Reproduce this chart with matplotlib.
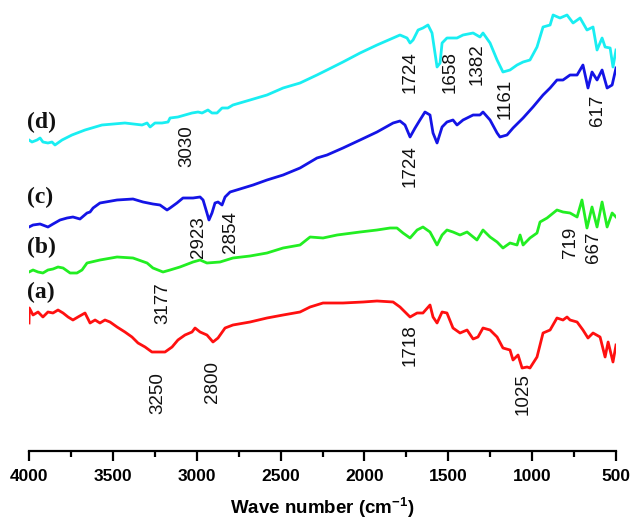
import matplotlib
matplotlib.use("Agg")
import matplotlib.pyplot as plt
from matplotlib.ticker import MultipleLocator

plt.rcParams['font.family'] = ['Liberation Sans', 'DejaVu Sans']
plt.rcParams['mathtext.fontset'] = 'custom'
plt.rcParams['mathtext.rm'] = 'Liberation Sans'
plt.rcParams['mathtext.bf'] = 'Liberation Sans:bold'

# ---- data (wavenumber in cm-1, transmittance in arbitrary offset units) ----
d_wn = [4000, 3982, 3952, 3934, 3917, 3887, 3863, 3845, 3803, 3744,
        3666, 3565, 3428, 3326, 3296, 3278, 3249, 3207, 3171, 3159,
        3112, 3070, 3028, 2992, 2968, 2933, 2909, 2879, 2849, 2814,
        2784, 2682, 2581, 2485, 2384, 2283, 2223, 2128, 2026, 1925, 1829,
        1788, 1746, 1728, 1710, 1680, 1651, 1621, 1597, 1567, 1549,
        1537, 1508, 1448, 1412, 1352, 1311, 1293, 1251, 1209, 1174,
        1132, 1090, 1054, 1013, 971, 935, 893, 875, 834, 792,
        756, 714, 673, 637, 613, 583, 565, 535, 518, 500]
d_t = [311, 309, 311, 313, 309, 308, 309, 306, 311, 316,
       321, 326, 328, 326, 328, 324, 328, 328, 329, 333,
       334, 336, 338, 339, 338, 341, 338, 338, 343, 343,
       346, 351, 356, 363, 368, 376, 381, 389, 398, 406, 413,
       416, 413, 408, 411, 421, 423, 426, 418, 384, 388,
       408, 413, 413, 416, 418, 414, 418, 408, 391, 379,
       381, 386, 389, 391, 404, 424, 426, 436, 433, 436,
       428, 433, 421, 424, 401, 413, 404, 403, 384, 401]

c_wn = [4000, 3976, 3934, 3887, 3857, 3815, 3773, 3738, 3696, 3654,
        3636, 3618, 3577, 3475, 3380, 3320, 3261, 3219, 3177, 3159,
        3118, 3082, 3022, 2980, 2962, 2939, 2927, 2909, 2891, 2873,
        2849, 2831, 2801, 2742, 2664, 2581, 2485, 2384, 2283, 2223,
        2128, 2026, 1925, 1829, 1788, 1758, 1728, 1698, 1669, 1639,
        1609, 1591, 1567, 1537, 1508, 1472, 1448, 1412, 1352, 1311,
        1293, 1251, 1209, 1192, 1150, 1114, 1054, 995, 935, 893,
        852, 816, 774, 732, 697, 667, 643, 613, 583, 553,
        523, 500]
c_t = [224, 226, 227, 224, 227, 231, 233, 234, 232, 238,
       239, 243, 248, 251, 252, 249, 247, 246, 241, 243,
       248, 253, 253, 254, 251, 238, 231, 238, 248, 249,
       246, 254, 259, 262, 266, 271, 276, 283, 293, 296,
       303, 311, 319, 328, 330, 326, 314, 323, 331, 339,
       336, 318, 308, 324, 329, 331, 326, 331, 336, 336,
       339, 331, 318, 314, 316, 323, 333, 344, 356, 363,
       371, 371, 376, 376, 386, 363, 379, 371, 381, 363,
       366, 383]

b_wn = [4000, 3976, 3946, 3917, 3887, 3857, 3827, 3797, 3755, 3714,
        3684, 3654, 3577, 3475, 3380, 3296, 3261, 3201, 3159, 3100,
        3022, 2980, 2939, 2861, 2784, 2682, 2581, 2485, 2384, 2324,
        2247, 2163, 2026, 1925, 1847, 1806, 1770, 1728, 1686, 1651,
        1609, 1567, 1537, 1508, 1472, 1430, 1388, 1329, 1293, 1251,
        1209, 1174, 1132, 1090, 1072, 1054, 1013, 971, 953, 911,
        852, 816, 774, 732, 703, 673, 643, 613, 583, 553,
        523, 500]
b_t = [179, 181, 179, 178, 181, 182, 184, 183, 178, 178,
       181, 188, 191, 194, 193, 188, 183, 179, 181, 184,
       189, 191, 188, 189, 193, 195, 198, 203, 206, 214,
       213, 216, 219, 221, 223, 223, 218, 213, 221, 224,
       219, 206, 216, 221, 219, 216, 219, 211, 221, 214,
       209, 203, 208, 206, 216, 206, 213, 218, 229, 233,
       241, 239, 238, 234, 251, 223, 244, 224, 249, 224,
       238, 234]

a_wn = [4000, 3998, 3976, 3946, 3917, 3887, 3857, 3827, 3797, 3767,
        3738, 3708, 3666, 3636, 3606, 3577, 3547, 3517, 3475, 3428,
        3386, 3350, 3308, 3267, 3231, 3189, 3147, 3112, 3070, 3028,
        3010, 2980, 2939, 2903, 2873, 2831,
        2784, 2682, 2581, 2485, 2384, 2324, 2247, 2128, 2008, 1925,
        1829, 1788, 1728, 1686, 1651, 1609, 1591, 1567, 1537, 1508,
        1472, 1430, 1388, 1352, 1323, 1293, 1251, 1209, 1174, 1132,
        1114, 1084, 1060, 1030, 1013, 971, 935, 893, 852, 816,
        792, 774, 732, 697, 667, 637, 595, 565, 547, 518,
        500]
a_t = [128, 143, 136, 139, 134, 139, 138, 141, 138, 134,
       131, 134, 138, 128, 131, 128, 131, 129, 124, 119,
       114, 108, 104, 99, 99, 99, 104, 111, 116, 119,
       123, 119, 116, 109, 113, 123,
       126, 129, 133, 136, 139, 144, 148, 148, 149, 150,
       149, 144, 134, 138, 138, 146, 134, 128, 139, 138,
       123, 118, 121, 112, 114, 123, 121, 114, 103, 101,
       91, 96, 83, 84, 83, 94, 118, 121, 133, 131,
       134, 131, 129, 121, 113, 118, 114, 94, 109, 89,
       106]

series_names = ['(d)', '(c)', '(b)', '(a)']
series_colors = ['#19EEF2', '#1414E6', '#22EE22', '#FF1010']

peak_labels = ['3030', '1724', '1658', '1382', '1161', '617',
               '2923', '2854', '1724', '719', '667',
               '3177', '3250', '2800', '1718', '1025']
peak_pos = [(3058, 305), (1728, 379), (1490, 379), (1329, 387), (1162, 352), (613, 341),
            (2992, 214), (2801, 219), (1728, 285), (774, 209), (637, 204),
            (3201, 148), (3231, 58), (2903, 69), (1728, 106), (1054, 57)]
name_pos = [329, 254, 204, 159]

# ---- figure ----
fig = plt.figure(figsize=(6.33, 5.23), dpi=100)
ax = fig.add_axes([29 / 633, 72 / 523, 587 / 633, 451 / 523])

for wn, t, col in zip([d_wn, c_wn, b_wn, a_wn], [d_t, c_t, b_t, a_t], series_colors):
    ax.plot(wn, t, color=col, lw=2.0, solid_joinstyle='round')

for lab, (x, y) in zip(peak_labels, peak_pos):
    ax.text(x, y, lab, rotation=90, ha='center', va='center', fontsize=13.5,
            color='#111111')

for name, y in zip(series_names, name_pos):
    ax.text(4012, y, name, ha='left', va='center', fontsize=17, fontweight='bold',
            family='Liberation Serif', color='#111111')

ax.set_xlim(4000, 500)
ax.set_ylim(0, 451)
for s in ['left', 'right', 'top']:
    ax.spines[s].set_visible(False)
ax.spines['bottom'].set_linewidth(1.6)
ax.set_yticks([])
ax.xaxis.set_major_locator(MultipleLocator(500))
ax.xaxis.set_minor_locator(MultipleLocator(250))
ax.tick_params(axis='x', which='major', direction='out', length=7, width=1.6,
               labelsize=12.5, pad=6)
ax.tick_params(axis='x', which='minor', direction='out', length=4, width=1.6)
for lbl in ax.get_xticklabels():
    lbl.set_fontweight('bold')
ax.set_xlabel(r'Wave number (cm$^{\mathbf{-1}}$)', fontsize=13.5, fontweight='bold',
              labelpad=8)

fig.savefig('out.png', dpi=100)
